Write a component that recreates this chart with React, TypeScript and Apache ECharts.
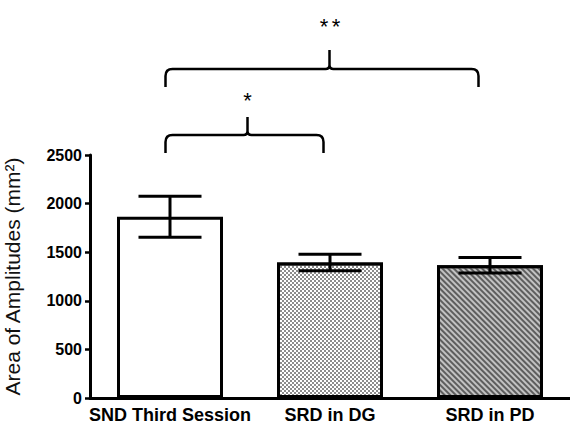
import React, { useEffect, useRef } from "react";
import * as echarts from "echarts";

const categories = ["SND Third Session", "SRD in DG", "SRD in PD"];
const means = [1865, 1395, 1365];
const errors = [210, 85, 80];
const yMin = 0;
const yMax = 2500;
const yStep = 500;

function braceD(x1: number, x2: number, xm: number, yLine: number, yEnd: number, yPeak: number) {
  const r = 7;
  const c = 4;
  return (
    `M${x1} ${yEnd} L${x1} ${yLine + r} Q${x1} ${yLine} ${x1 + r} ${yLine} ` +
    `L${xm - c} ${yLine} Q${xm} ${yLine} ${xm} ${yLine - c} L${xm} ${yPeak} ` +
    `M${xm} ${yLine - c} Q${xm} ${yLine} ${xm + c} ${yLine} ` +
    `L${x2 - r} ${yLine} Q${x2} ${yLine} ${x2} ${yLine + r} L${x2} ${yEnd}`
  );
}

export default function App() {
  const ref = useRef<HTMLDivElement>(null);

  useEffect(() => {
    const el = ref.current!;
    const chart = echarts.init(el, null, { renderer: "svg", width: 570, height: 425 });

    const barColors = ["#ffffff", "#ffffff", "#c2c2c2"];
    const decals: any[] = [
      null,
      {
        symbol: "rect",
        symbolSize: 1,
        dashArrayX: [[2, 2], [0, 2, 2, 0]],
        dashArrayY: [2, 0],
        color: "#8c8c8c",
      },
      {
        symbol: "rect",
        symbolSize: 1,
        dashArrayX: [1, 0],
        dashArrayY: [1.6, 1.6],
        rotation: Math.PI / 4,
        color: "#5e5e5e",
      },
    ];

    const barData = means.map((v, i) => ({
      value: v,
      itemStyle: {
        color: barColors[i],
        borderColor: "#000",
        borderWidth: 3,
        ...(decals[i] ? { decal: decals[i] } : {}),
      },
    }));

    const errData = means.map((v, i) => [i, v - errors[i], v + errors[i]]);

    const font = "'Liberation Sans', Arial, sans-serif";

    chart.setOption({
      animation: false,
      grid: {
        left: 90,
        right: 0,
        top: 155,
        bottom: 27,
        containLabel: false,
        outerBoundsMode: "none",
      },
      xAxis: {
        type: "category",
        data: categories,
        axisLine: { lineStyle: { color: "#000", width: 3 } },
        axisTick: { alignWithLabel: true, length: 5, lineStyle: { color: "#000", width: 2.5 } },
        axisLabel: {
          color: "#000",
          fontFamily: font,
          fontWeight: "bold",
          fontSize: 18,
          margin: 8,
          interval: 0,
        },
      },
      yAxis: {
        type: "value",
        min: yMin,
        max: yMax,
        interval: yStep,
        name: "Area of Amplitudes (mm²)",
        nameLocation: "middle",
        nameGap: 67,
        nameTextStyle: { color: "#111", fontFamily: font, fontSize: 21 },
        axisLine: { show: true, lineStyle: { color: "#000", width: 3 } },
        axisTick: { show: true, length: 5, lineStyle: { color: "#000", width: 2.5 } },
        axisLabel: {
          color: "#000",
          fontFamily: font,
          fontWeight: "bold",
          fontSize: 16,
          margin: 8,
          formatter: (v: number) => String(v),
        },
        splitLine: { show: false },
      },
      series: [
        {
          type: "bar",
          data: barData,
          barWidth: 106,
          z: 2,
        },
        {
          type: "custom",
          z: 3,
          data: errData,
          renderItem: (params: any, api: any) => {
            const idx = api.value(0);
            const lo = api.coord([idx, api.value(1)]);
            const hi = api.coord([idx, api.value(2)]);
            const hw = 31.5;
            const style = { stroke: "#000", lineWidth: 3 };
            return {
              type: "group",
              children: [
                { type: "line", shape: { x1: hi[0], y1: hi[1], x2: lo[0], y2: lo[1] }, style },
                { type: "line", shape: { x1: hi[0] - hw, y1: hi[1], x2: hi[0] + hw, y2: hi[1] }, style },
                { type: "line", shape: { x1: lo[0] - hw, y1: lo[1], x2: lo[0] + hw, y2: lo[1] }, style },
              ],
            };
          },
        },
      ],
    });

    const c0 = chart.convertToPixel({ xAxisIndex: 0 }, categories[0]) as number;
    const c1 = chart.convertToPixel({ xAxisIndex: 0 }, categories[1]) as number;
    const c2 = chart.convertToPixel({ xAxisIndex: 0 }, categories[2]) as number;

    const lowD = braceD(c0 - 4.5, c1 - 6.5, c0 + 77.5, 135, 153, 117);
    const highD = braceD(c0 - 4.5, c2 - 11.5, c1 - 0.5, 69, 87, 50);
    echarts.graphic.registerShape("braceLow", echarts.graphic.extendPath(lowD, {}) as any);
    echarts.graphic.registerShape("braceHigh", echarts.graphic.extendPath(highD, {}) as any);

    const starStyle = {
      text: "*",
      fill: "#000",
      font: `22px ${font}`,
      textAlign: "center",
      textVerticalAlign: "middle",
    };

    chart.setOption({
      graphic: [
        { type: "braceLow", x: 0, y: 0, style: { stroke: "#000", lineWidth: 2.5, fill: null } },
        { type: "braceHigh", x: 0, y: 0, style: { stroke: "#000", lineWidth: 2.5, fill: null } },
        { type: "text", x: c0 + 77.5, y: 100, style: starStyle },
        { type: "text", x: c1 - 6, y: 26, style: starStyle },
        { type: "text", x: c1 + 6, y: 26, style: starStyle },
      ],
    });

    return () => {
      chart.dispose();
    };
  }, []);

  return (
    <div
      ref={ref}
      style={{ position: "absolute", left: 0, top: 0, width: 570, height: 425, background: "#fff" }}
    />
  );
}
